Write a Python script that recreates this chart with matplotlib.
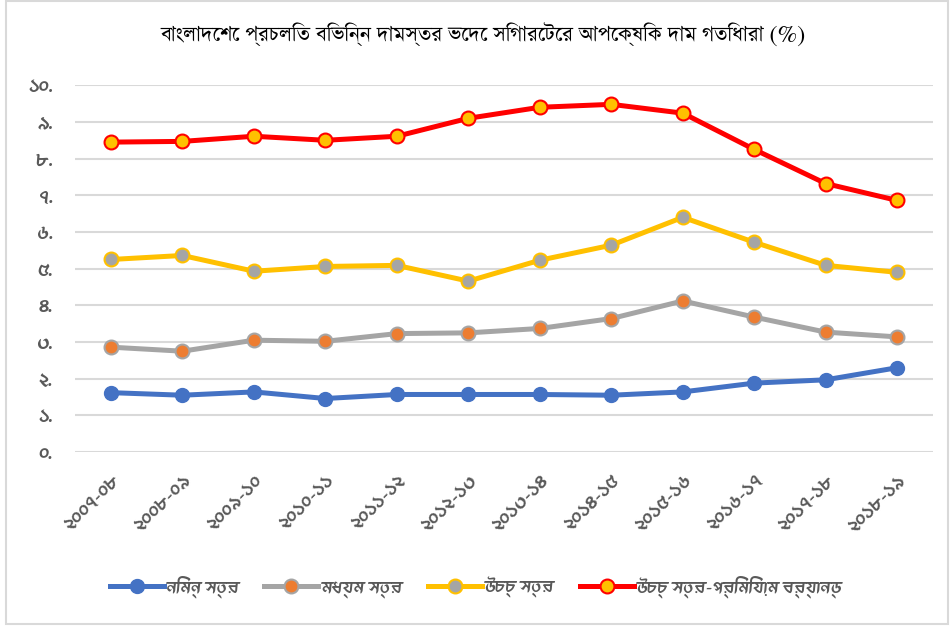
import matplotlib
matplotlib.use("Agg")
import matplotlib.pyplot as plt
from matplotlib import font_manager
from matplotlib.ft2font import FT2Font
from matplotlib.patches import Rectangle

# data
years = ["২০০৭-০৮", "২০০৮-০৯", "২০০৯-১০", "২০১০-১১", "২০১১-১২", "২০১২-১৩",
         "২০১৩-১৪", "২০১৪-১৫", "২০১৫-১৬", "২০১৬-১৭", "২০১৭-১৮", "২০১৮-১৯"]
low = [1.62, 1.55, 1.64, 1.46, 1.57, 1.57, 1.57, 1.55, 1.64, 1.88, 1.97, 2.30]
medium = [2.86, 2.75, 3.05, 3.02, 3.23, 3.25, 3.37, 3.64, 4.12, 3.68, 3.27, 3.14]
high = [5.25, 5.36, 4.93, 5.06, 5.09, 4.66, 5.23, 5.64, 6.40, 5.72, 5.09, 4.90]
premium = [8.45, 8.47, 8.61, 8.50, 8.61, 9.10, 9.40, 9.48, 9.24, 8.25, 7.32, 6.86]
y_ticks = [0, 1, 2, 3, 4, 5, 6, 7, 8, 9, 10]
y_labels = ["০.", "১.", "২.", "৩.", "৪.", "৫.", "৬.", "৭.", "৮.", "৯.", "১০."]
names = ["নিম্ন স্তর", "মধ্যম স্তর", "উচ্চ স্তর", "উচ্চ স্তর-প্রিমিয়াম ব্র্যান্ড"]
title = "বাংলাদেশে প্রচলিত বিভিন্ন দামস্তর ভেদে সিগারেটের আপেক্ষিক দাম গতিধারা (%)"


# look for any installed font that has Bengali glyphs
def bengali_fonts():
    found = []
    for f in font_manager.fontManager.ttflist:
        try:
            if 0x0995 in FT2Font(f.fname).get_charmap():
                found.append(f.name)
        except Exception:
            pass
    return sorted(set(found))


bn = bengali_fonts()
sans = [f for f in bn if "Serif" not in f] or bn
serif = [f for f in bn if "Serif" in f] or bn
sans_fam = sans[:1] + ["DejaVu Sans"]
serif_fam = serif[:1] + ["DejaVu Serif"]

fig = plt.figure(figsize=(9.52, 6.27), dpi=100)
ax = fig.add_axes([0.079, 0.279, 0.901, 0.585])

x = range(len(years))
ax.plot(x, low, color="#4472C4", lw=3.6, marker="o", ms=10,
        mfc="#4472C4", mec="#4472C4", label=names[0], zorder=3)
ax.plot(x, medium, color="#A5A5A5", lw=3.6, marker="o", ms=10,
        mfc="#ED7D31", mec="#A5A5A5", mew=1.5, label=names[1], zorder=3)
ax.plot(x, high, color="#FFC000", lw=3.6, marker="o", ms=10,
        mfc="#A5A5A5", mec="#FFC000", mew=1.5, label=names[2], zorder=3)
ax.plot(x, premium, color="#FF0000", lw=3.6, marker="o", ms=10,
        mfc="#FFC000", mec="#FF0000", mew=1.5, label=names[3], zorder=3)

ax.set_xlim(-0.5, len(years) - 0.5)
ax.set_ylim(0, 10)
ax.set_yticks(y_ticks)
ax.set_yticklabels(y_labels, family=sans_fam, fontsize=14, color="#595959")
ax.set_xticks(list(x))
ax.set_xticklabels(years, family=sans_fam, fontsize=14, color="#595959",
                   rotation=45, ha="right", rotation_mode="anchor")
ax.tick_params(length=0)
ax.tick_params(axis="x", pad=14)
ax.tick_params(axis="y", pad=16)
ax.grid(axis="y", color="#D9D9D9", lw=1.5)
ax.set_axisbelow(True)
for s in ax.spines.values():
    s.set_visible(False)

fig.text(0.507, 0.944, title, ha="center", va="center", fontsize=17.5,
         family=serif_fam, color="black")

fig.legend(loc="center", bbox_to_anchor=(0.5, 0.064), ncol=4, frameon=False,
           prop={"family": sans_fam, "size": 13}, handlelength=3.0,
           columnspacing=1.4, handletextpad=0.15, labelcolor="#595959")

fig.patches.append(Rectangle((0.006, 0.004), 0.99, 0.994, transform=fig.transFigure,
                             fill=False, ec="#D9D9D9", lw=1.5))

plt.savefig("out.png", dpi=100)
